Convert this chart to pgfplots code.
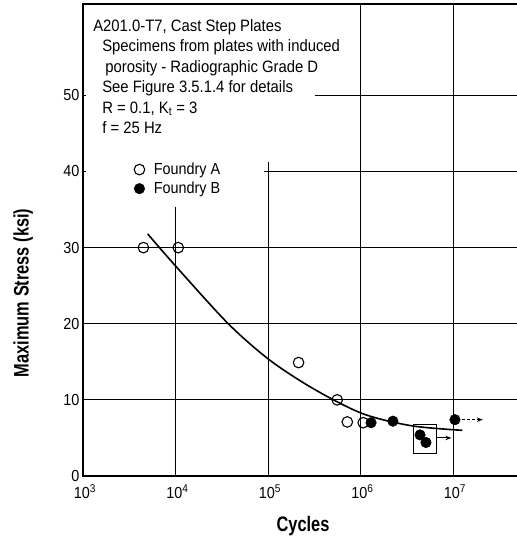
\documentclass[border=0pt]{standalone}
\usepackage{pgfplots}
\pgfplotsset{compat=1.18}
\usepackage{fontspec}
\setmainfont{Liberation Sans}
\newfontfamily\notefont[FakeStretch=0.9]{Liberation Sans}
\newfontfamily\labelfont[FakeStretch=0.78]{Liberation Sans Bold}
\usetikzlibrary{arrows.meta}

\begin{document}
\begin{tikzpicture}
\begin{axis}[
  scale only axis,
  width=440pt, height=472pt,
  at={(0pt,0pt)}, anchor=south west,
  xmode=log, xmin=1e3, xmax=5.71e7,
  ymin=0, ymax=62,
  xtick={1e3,1e4,1e5,1e6,1e7},
  xticklabels={10\textsuperscript{3},10\textsuperscript{4},10\textsuperscript{5},10\textsuperscript{6},10\textsuperscript{7}},
  ytick={0,10,20,30,40,50},
  xtick pos=bottom, ytick pos=left,
  xtick style={draw=none},
  ytick style={black, line width=0.8pt},
  major tick length=3pt, tick align=inside,
  /pgf/number format/assume math mode=true,
  tick label style={font=\fontsize{16}{16}\selectfont\notefont},
  xticklabel style={yshift=-5pt, xshift=2pt},
  axis line style={line width=2pt},
  xlabel={Cycles},
  ylabel={Maximum Stress (ksi)},
  label style={font=\fontsize{21}{21}\selectfont\labelfont},
  xlabel style={yshift=-11pt},
  ylabel style={at={(axis description cs:-0.136,0.388)}, anchor=center},
  legend style={draw=none, fill=none, at={(axis description cs:0.109,0.672)}, anchor=north west,
    font=\fontsize{16}{16}\selectfont\notefont, row sep=2pt, column sep=7pt},
  legend cell align=left,
]
% grid lines, left open where the notes and legend sit
\begin{scope}[line width=1pt]
  \draw (axis cs:1e3,10) -- (axis cs:5.71e7,10);
  \draw (axis cs:1e3,20) -- (axis cs:5.71e7,20);
  \draw (axis cs:1e3,30) -- (axis cs:5.71e7,30);
  \draw (axis cs:9.1e4,40) -- (axis cs:5.71e7,40);
  \draw (axis cs:3.2e5,50) -- (axis cs:5.71e7,50);
  \draw (axis cs:1e4,0) -- (axis cs:1e4,35.3);
  \draw (axis cs:1e5,0) -- (axis cs:1e5,41.3);
  \draw (axis cs:1e6,0) -- (axis cs:1e6,62);
  \draw (axis cs:1e7,0) -- (axis cs:1e7,62);
\end{scope}

% fitted S-N curve
\addplot[black, line width=1.6pt, smooth, forget plot] coordinates {
  (5.0e3,31.8) (1.0e4,27.6) (3.72e4,20.0) (1.05e5,15.2)
  (3.16e5,11.4) (1.05e6,8.2) (3.55e6,6.6) (1.26e7,6.0)
};

% Foundry A
\addplot[only marks, mark=o, mark size=5.3pt, line width=1.1pt, black, mark options={fill=white}] coordinates {
  (4.5e3,30) (1.07e4,30) (2.14e5,14.9) (5.6e5,10.0) (7.2e5,7.1) (1.07e6,7.0)
};
\addlegendentry{Foundry A}

% Foundry B
\addplot[only marks, mark=*, mark size=5.3pt, black] coordinates {
  (1.3e6,7.0) (2.24e6,7.2) (4.4e6,5.4) (5.1e6,4.4) (1.05e7,7.4)
};
\addlegendentry{Foundry B}

% run-outs
\draw[line width=1pt, densely dashed, -{Stealth[length=6pt]}] (axis cs:1.25e7,7.4) -- (axis cs:2.1e7,7.4);
\draw[line width=1pt] (axis cs:3.7e6,3.0) rectangle (axis cs:6.71e6,6.8);
\draw[line width=1pt, -{Stealth[length=6pt]}] (axis cs:6.71e6,5.0) -- (axis cs:9.6e6,5.0);

% test conditions
\node[anchor=north west, align=left, inner sep=0pt,
      font=\fontsize{16.5}{20.5}\selectfont\notefont]
  at (axis description cs:0.023,0.968) {%
  A201.0-T7, Cast Step Plates\\
  \hspace*{9pt}Specimens from plates with induced\\
  \hspace*{12pt}porosity - Radiographic Grade D\\
  \hspace*{9pt}See Figure 3.5.1.4 for details\\
  \hspace*{9pt}R = 0.1, K\textsubscript{t} = 3\\
  \hspace*{9pt}f = 25 Hz};
\end{axis}
\pgfresetboundingbox
\path[use as bounding box] (-83pt,-71pt) rectangle (434pt,476pt);
\end{tikzpicture}
\end{document}
